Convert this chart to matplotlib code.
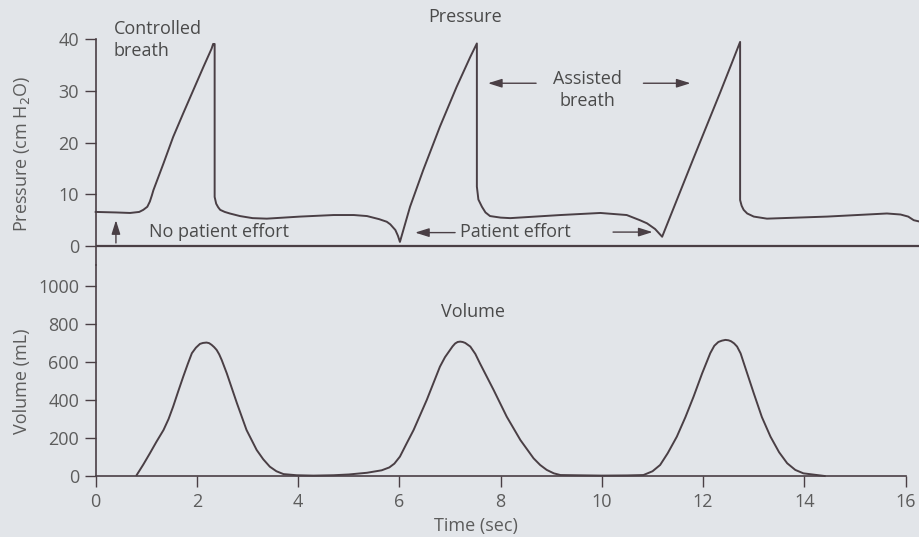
import matplotlib

matplotlib.use("Agg")
import matplotlib.pyplot as plt

plt.rcParams["font.family"] = ["Open Sans", "DejaVu Sans"]

# 압력 곡선 (sec, cm H2O) — 그림에서 읽은 값
pressure_t = [0.00, 0.40, 0.68, 0.86, 0.94, 1.02, 1.07, 1.11, 1.14, 1.24, 1.34, 1.53, 1.73, 1.93,
              2.13, 2.29, 2.32, 2.35,
              2.35, 2.38, 2.42, 2.46, 2.55, 2.65, 2.85, 3.10, 3.38, 4.04, 4.70, 5.10, 5.36, 5.60,
              5.75, 5.82, 5.92, 5.97, 6.01,
              6.21, 6.47, 6.80, 7.13, 7.40, 7.53,
              7.53, 7.56, 7.63, 7.70, 7.79, 8.00, 8.19, 9.18, 9.97, 10.49, 10.75, 10.89, 11.05, 11.19,
              11.50, 11.81, 12.34, 12.55, 12.73,
              12.73, 12.76, 12.80, 12.87, 13.00, 13.26, 14.45, 15.63, 15.90, 16.05, 16.16, 16.29]
pressure_p = [6.6, 6.5, 6.4, 6.6, 7.0, 7.6, 8.6, 9.8, 10.8, 13.4, 16.0, 21.1, 25.7, 30.2,
              34.7, 38.2, 39.1, 39.1,
              9.5, 8.2, 7.5, 7.0, 6.6, 6.3, 5.8, 5.4, 5.3, 5.7, 6.0, 6.0, 5.8, 5.2,
              4.7, 4.2, 3.1, 2.0, 0.8,
              7.6, 14.7, 23.1, 30.8, 36.6, 39.2,
              11.5, 9.0, 7.6, 6.5, 5.8, 5.5, 5.4, 6.0, 6.4, 6.0, 5.0, 4.4, 3.3, 1.8,
              9.4, 17.0, 29.8, 35.0, 39.5,
              8.9, 7.8, 7.0, 6.3, 5.7, 5.3, 5.7, 6.3, 6.1, 5.7, 5.0, 4.7]

# 용적 곡선 (sec, mL)
volume_t = [0.81, 0.94, 1.07, 1.20, 1.34, 1.44, 1.53, 1.63, 1.73, 1.82, 1.90, 1.98, 2.06, 2.12,
            2.19, 2.24, 2.29, 2.34, 2.39, 2.44, 2.49, 2.59,
            2.79, 2.98, 3.18, 3.31, 3.44, 3.57, 3.71, 3.97, 4.30, 4.70, 5.00, 5.36, 5.65, 5.80,
            5.90, 6.01, 6.14, 6.28, 6.54, 6.80, 6.90, 7.00, 7.05, 7.10, 7.15, 7.20, 7.25, 7.30,
            7.40, 7.50, 7.59, 7.86,
            8.12, 8.39, 8.65, 8.78, 8.91, 9.05, 9.18, 10.00, 10.50, 10.82, 11.00, 11.15, 11.30,
            11.48, 11.65, 11.81, 11.98, 12.14, 12.22, 12.30, 12.37, 12.44, 12.50, 12.55, 12.61,
            12.67, 12.74, 12.82, 13.00, 13.16, 13.33, 13.50, 13.66, 13.82, 13.98, 14.25, 14.40]
volume_v = [5, 60, 119, 180, 242, 300, 365, 445, 523, 590, 646, 675, 695, 700,
            702, 699, 690, 678, 663, 640, 610, 540,
            383, 242, 137, 88, 49, 25, 10, 4, 2, 4, 8, 17, 30, 45,
            65, 102, 170, 242, 400, 575, 625, 663, 682, 697, 705, 707, 705, 700,
            681, 642, 593, 453,
            312, 189, 93, 58, 32, 14, 5, 2, 3, 5, 25, 58, 120,
            207, 310, 417, 540, 646, 685, 705, 712, 716, 714, 709, 698,
            681, 645, 580, 435, 310, 207, 125, 67, 32, 14, 5, 0]

x_ticks = [0, 2, 4, 6, 8, 10, 12, 14, 16]
p_ticks = [0, 10, 20, 30, 40]
v_ticks = [0, 200, 400, 600, 800, 1000]

BG = "#e2e5e9"
INK = "#4a3f45"
TXT = "#4a4a4a"
TICK = "#5c5c5c"
FS = 13

fig = plt.figure(figsize=(9.2, 5.37), dpi=100, facecolor=BG)
ax_p = fig.add_axes([0.104, 0.5065, 0.8804, 0.4203], facecolor="none")
ax_v = fig.add_axes([0.104, 0.1136, 0.8804, 0.3929], facecolor="none")

for ax in (ax_p, ax_v):
    for s in ("top", "right"):
        ax.spines[s].set_visible(False)
    ax.spines["left"].set_color(INK)
    ax.spines["left"].set_linewidth(1.2)
    ax.tick_params(direction="out", length=8, width=1.0, color=INK,
                   labelcolor=TICK, labelsize=FS, pad=4)
    ax.set_xlim(0, 16)

ax_p.spines["bottom"].set_visible(False)
ax_p.set_xticks([])
ax_p.set_ylim(-3.67, 40)
ax_p.set_yticks(p_ticks)

ax_v.spines["bottom"].set_color(INK)
ax_v.spines["bottom"].set_linewidth(1.2)
ax_v.set_ylim(0, 1110)
ax_v.set_yticks(v_ticks)
ax_v.set_xticks(x_ticks)

# 압력 기준선 + 곡선
ax_p.plot([0, 16.29], [0, 0], color=INK, lw=1.6, clip_on=False, solid_capstyle="butt")
ax_p.plot(pressure_t, pressure_p, color=INK, lw=1.4, clip_on=False, solid_joinstyle="round")
ax_v.plot(volume_t, volume_v, color=INK, lw=1.4, clip_on=False, solid_joinstyle="round")

# 주석
ax_p.text(0.36, 43.7, "Controlled\nbreath", ha="left", va="top", fontsize=FS,
          color=TXT, linespacing=1.3)
ax_p.text(7.30, 44.3, "Pressure", ha="center", va="center", fontsize=FS, color=TXT)
ax_p.text(9.71, 30.2, "Assisted\nbreath", ha="center", va="center", fontsize=FS,
          color=TXT, linespacing=1.3)
ax_p.text(1.05, 2.7, "No patient effort", ha="left", va="center", fontsize=FS, color=TXT)
ax_p.text(7.20, 2.7, "Patient effort", ha="left", va="center", fontsize=FS, color=TXT)

arrow = dict(arrowstyle="-|>,head_length=0.7,head_width=0.22", color=INK, lw=1.0,
             mutation_scale=12, shrinkA=0, shrinkB=0)
ax_p.annotate("", xy=(7.75, 31.5), xytext=(8.70, 31.5), arrowprops=arrow)
ax_p.annotate("", xy=(11.75, 31.5), xytext=(10.82, 31.5), arrowprops=arrow)
ax_p.annotate("", xy=(6.31, 2.6), xytext=(7.10, 2.6), arrowprops=arrow)
ax_p.annotate("", xy=(11.0, 2.7), xytext=(10.22, 2.7), arrowprops=arrow)
ax_p.annotate("", xy=(0.40, 5.0), xytext=(0.40, 0.6), arrowprops=arrow)

ax_v.text(7.46, 863, "Volume", ha="center", va="center", fontsize=FS, color=TXT)

fig.text(22 / 920, 1 - 154 / 537, "Pressure (cm H$_2$O)", rotation=90, ha="center",
         va="center", fontsize=FS, color=TICK)
fig.text(22 / 920, 1 - 381 / 537, "Volume (mL)", rotation=90, ha="center",
         va="center", fontsize=FS, color=TICK)
fig.text(476 / 920, 1 - 526 / 537, "Time (sec)", ha="center", va="center",
         fontsize=FS, color=TICK)

fig.savefig("out.png", dpi=100, facecolor=BG)
